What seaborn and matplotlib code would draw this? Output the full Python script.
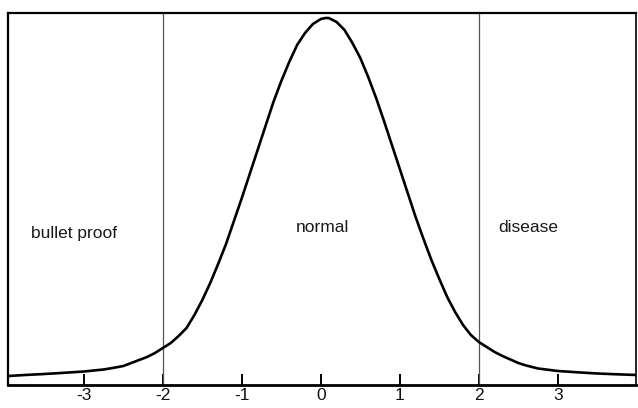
import matplotlib
matplotlib.use("Agg")
import matplotlib.pyplot as plt
import seaborn as sns
import pandas as pd

# Relative frequency of the measured score (curve read as height units)
score = [-3.95, -3.75, -3.5, -3.25, -3.0, -2.75, -2.6, -2.5, -2.4, -2.3,
         -2.2, -2.1, -2.0, -1.9, -1.8, -1.7, -1.6, -1.5, -1.4, -1.3,
         -1.2, -1.1, -1.0, -0.9, -0.8, -0.7, -0.6, -0.5, -0.4, -0.3,
         -0.2, -0.1, 0.0, 0.06, 0.1, 0.2, 0.3, 0.4, 0.5, 0.6,
         0.7, 0.8, 0.9, 1.0, 1.1, 1.2, 1.3, 1.4, 1.5, 1.6,
         1.7, 1.8, 1.9, 2.0, 2.1, 2.2, 2.3, 2.4, 2.5, 2.6,
         2.75, 3.0, 3.25, 3.5, 3.75, 4.0]
frequency = [0.0090, 0.0100, 0.0110, 0.0122, 0.0135, 0.0155, 0.0175, 0.0190, 0.0220, 0.0250,
             0.0280, 0.0320, 0.0370, 0.0420, 0.0490, 0.0570, 0.0700, 0.0850, 0.1020, 0.1210,
             0.1410, 0.1640, 0.1870, 0.2110, 0.2350, 0.2590, 0.2830, 0.3040, 0.3230, 0.3400,
             0.3520, 0.3610, 0.3660, 0.3670, 0.3670, 0.3630, 0.3550, 0.3420, 0.3270, 0.3080,
             0.2870, 0.2640, 0.2400, 0.2160, 0.1920, 0.1680, 0.1460, 0.1250, 0.1060, 0.0880,
             0.0730, 0.0600, 0.0500, 0.0430, 0.0380, 0.0330, 0.0290, 0.0255, 0.0220, 0.0195,
             0.0165, 0.0140, 0.0127, 0.0115, 0.0107, 0.0100]

# Region boundaries and labels
boundaries = [-2, 2]
region_names = ["bullet proof", "normal", "disease"]
region_x = [-3.13, 0.02, 2.63]
region_y = [0.152, 0.158, 0.158]

tick_values = [-3, -2, -1, 0, 1, 2, 3]
tick_labels = ["-3", "-2", "-1", "0", "1", "2", "3"]

sns.set_theme(style="white")
plt.rcParams["font.family"] = ["Liberation Sans", "DejaVu Sans"]

fig = plt.figure(figsize=(6.38, 4.08), dpi=100)
ax = fig.add_axes([8 / 638, 1 - 385 / 408, 628 / 638, 372 / 408])

df = pd.DataFrame({"score": score, "frequency": frequency})
sns.lineplot(data=df, x="score", y="frequency", ax=ax, color="black",
             linewidth=1.9, sort=True, estimator=None,
             solid_joinstyle="round", solid_capstyle="round")

for b in boundaries:
    ax.axvline(b, color="#555555", linewidth=0.9, zorder=1)

for name, x, y in zip(region_names, region_x, region_y):
    ax.text(x, y, name, ha="center", va="center", fontsize=12.5, color="#1a1a1a")

ax.set_xlim(-3.96, 3.99)
ax.set_ylim(0, 0.372)
ax.set_xticks(tick_values)
ax.set_xticklabels(tick_labels, fontsize=12.5, color="#111111")
ax.set_yticks([])
ax.set_xlabel("")
ax.set_ylabel("")
ax.tick_params(axis="x", direction="in", length=8, width=1.4, color="black",
               pad=2, bottom=True)

for side, lw in [("left", 1.6), ("top", 1.6), ("bottom", 2.0), ("right", 1.2)]:
    ax.spines[side].set_visible(True)
    ax.spines[side].set_color("black")
    ax.spines[side].set_linewidth(lw)

fig.savefig("out.png", dpi=100)
